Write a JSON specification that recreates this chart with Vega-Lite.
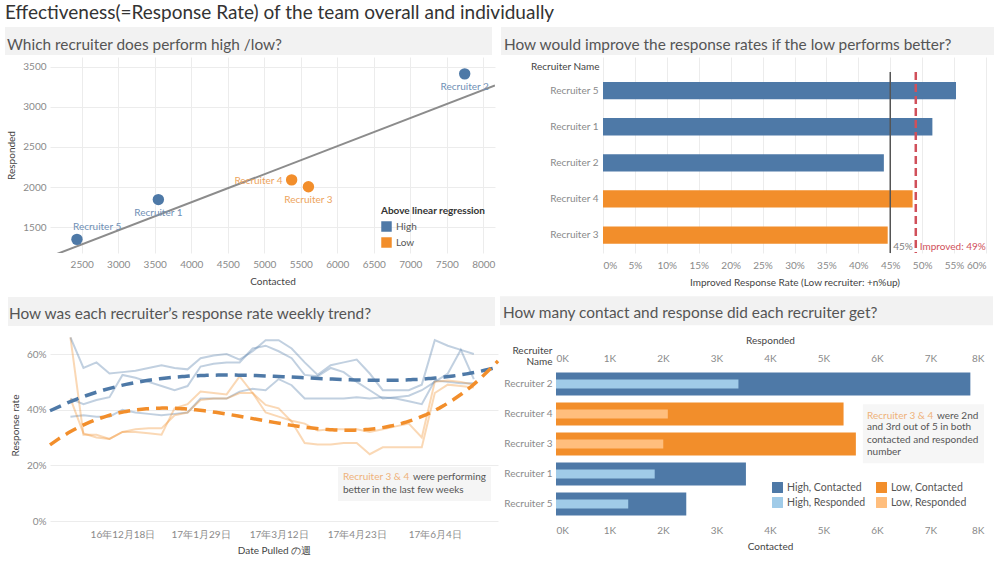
{
  "$schema": "https://vega.github.io/schema/vega-lite/v6.json",
  "padding": {"left": 5, "top": 3, "right": 2, "bottom": 2},
  "background": "white",
  "title": {"text": "Effectiveness(=Response Rate) of the team overall and individually", "fontSize": 19, "color": "#333", "anchor": "start", "frame": "bounds", "offset": 4, "fontWeight": "normal"},
  "datasets": {
    "recruiters": [
      {"Recruiter": "Recruiter 1", "Group": "High", "Contacted": 3550, "Responded": 1845, "Improved": 0.516},
      {"Recruiter": "Recruiter 2", "Group": "High", "Contacted": 7745, "Responded": 3410, "Improved": 0.440},
      {"Recruiter": "Recruiter 3", "Group": "Low", "Contacted": 5605, "Responded": 2005, "Improved": 0.446},
      {"Recruiter": "Recruiter 4", "Group": "Low", "Contacted": 5375, "Responded": 2090, "Improved": 0.485},
      {"Recruiter": "Recruiter 5", "Group": "High", "Contacted": 2435, "Responded": 1350, "Improved": 0.553}
    ],
    "bars": [
      {"Recruiter": "Recruiter 2", "Measure": "Contacted", "Series": "High, Contacted", "Value": 7745},
      {"Recruiter": "Recruiter 4", "Measure": "Contacted", "Series": "Low, Contacted", "Value": 5375},
      {"Recruiter": "Recruiter 3", "Measure": "Contacted", "Series": "Low, Contacted", "Value": 5605},
      {"Recruiter": "Recruiter 1", "Measure": "Contacted", "Series": "High, Contacted", "Value": 3550},
      {"Recruiter": "Recruiter 5", "Measure": "Contacted", "Series": "High, Contacted", "Value": 2435},
      {"Recruiter": "Recruiter 2", "Measure": "Responded", "Series": "High, Responded", "Value": 3410},
      {"Recruiter": "Recruiter 4", "Measure": "Responded", "Series": "Low, Responded", "Value": 2090},
      {"Recruiter": "Recruiter 3", "Measure": "Responded", "Series": "Low, Responded", "Value": 2005},
      {"Recruiter": "Recruiter 1", "Measure": "Responded", "Series": "High, Responded", "Value": 1845},
      {"Recruiter": "Recruiter 5", "Measure": "Responded", "Series": "High, Responded", "Value": 1350}
    ]
  },
  "columns": 2,
  "align": "none",
  "spacing": {"row": 9, "column": -5},
  "resolve": {"scale": {"color": "independent"}},
  "concat": [
    {
      "width": 445, "height": 196,
      "title": {"text": "Which recruiter does perform high /low?", "dx": -43, "offset": -26},
      "layer": [
        {
          "data": {"values": [{}]},
          "mark": {"type": "rect", "color": "#f2f2f2"},
          "encoding": {
            "x": {"datum": 1450, "type": "quantitative", "scale": {"domain": [2066, 8160], "nice": false, "zero": false}, "axis": null},
            "x2": {"datum": 8119},
            "y": {"datum": 3993, "type": "quantitative", "scale": {"domain": [1180, 3620], "nice": false, "zero": false}, "axis": null},
            "y2": {"datum": 3645}
          }
        },
        {
          "data": {"name": "recruiters"},
          "encoding": {
            "x": {"field": "Contacted", "type": "quantitative", "scale": {"domain": [2066, 8160], "nice": false, "zero": false},
                  "axis": {"values": [2500, 3000, 3500, 4000, 4500, 5000, 5500, 6000, 6500, 7000, 7500, 8000], "grid": true, "format": "d", "title": "Contacted", "labelPadding": 6, "titlePadding": 7}},
            "y": {"field": "Responded", "type": "quantitative", "scale": {"domain": [1180, 3620], "nice": false, "zero": false},
                  "axis": {"values": [1500, 2000, 2500, 3000, 3500], "grid": true, "format": "d", "title": "Responded"}}
          },
          "layer": [
            {
              "transform": [{"regression": "Responded", "on": "Contacted", "method": "linear", "extent": [2066, 8160]}],
              "mark": {"type": "line", "color": "#8c8c8c", "strokeWidth": 2, "clip": true}
            },
            {
              "mark": {"type": "circle", "size": 130, "opacity": 1},
              "encoding": {
                "color": {"field": "Group", "type": "nominal", "scale": {"domain": ["High", "Low"], "range": ["#4e79a7", "#f28e2b"]},
                          "legend": {"title": "Above linear regression", "orient": "none", "legendX": 331, "legendY": 149, "titleFontWeight": "bold", "symbolSize": 110, "rowPadding": 5}}
              }
            },
            {
              "transform": [{"filter": "datum.Recruiter == 'Recruiter 1' || datum.Recruiter == 'Recruiter 2' || datum.Recruiter == 'Recruiter 3'"}],
              "mark": {"type": "text", "dy": 13, "fontSize": 10, "align": "center", "baseline": "middle"},
              "encoding": {"text": {"field": "Recruiter"}, "color": {"condition": {"test": "datum.Group == 'High'", "value": "#6f8fb5"}, "value": "#eda45c"}}
            },
            {
              "transform": [{"filter": "datum.Recruiter == 'Recruiter 5'"}],
              "mark": {"type": "text", "dx": -4, "dy": -12, "fontSize": 10, "align": "left", "baseline": "middle"},
              "encoding": {"text": {"field": "Recruiter"}, "color": {"value": "#6f8fb5"}}
            },
            {
              "transform": [{"filter": "datum.Recruiter == 'Recruiter 4'"}],
              "mark": {"type": "text", "dx": -9, "dy": 1, "fontSize": 10, "align": "right", "baseline": "middle"},
              "encoding": {"text": {"field": "Recruiter"}, "color": {"value": "#eda45c"}}
            }
          ]
        }
      ],
      "resolve": {"scale": {"x": "independent", "y": "independent"}}
    },
    {
      "width": 383, "height": 196,
      "title": {"text": "How would improve the response rates if the low performs better?", "dx": -99, "offset": -26},
      "layer": [
        {
          "data": {"values": [{}]},
          "mark": {"type": "rect", "color": "#f2f2f2"},
          "encoding": {
            "x": {"datum": -0.1598, "type": "quantitative", "scale": {"domain": [0, 0.6], "nice": false}, "axis": null},
            "x2": {"datum": 0.6125},
            "y": {"datum": 1.1531, "type": "quantitative", "scale": {"domain": [0, 1]}, "axis": null},
            "y2": {"datum": 1.0102}
          }
        },
        {
          "data": {"name": "recruiters"},
          "mark": {"type": "bar"},
          "encoding": {
            "y": {"field": "Recruiter", "type": "nominal", "sort": ["Recruiter 5", "Recruiter 1", "Recruiter 2", "Recruiter 4", "Recruiter 3"],
                  "scale": {"paddingInner": 0.52, "paddingOuter": 0.4747, "align": 0.729},
                  "axis": {"title": "Recruiter Name", "titleAngle": 0, "titleAlign": "right", "titleX": -4, "titleY": 9, "titleBaseline": "middle", "labelPadding": 5}},
            "x": {"field": "Improved", "type": "quantitative", "scale": {"domain": [0, 0.6], "nice": false},
                  "axis": {"format": ".0%", "values": [0, 0.05, 0.1, 0.15, 0.2, 0.25, 0.3, 0.35, 0.4, 0.45, 0.5, 0.55, 0.6], "labelOverlap": false, "labelSeparation": 0, "grid": true, "title": "Improved Response Rate (Low recruiter: +n%up)", "labelPadding": 7, "titlePadding": 7}},
            "color": {"field": "Group", "type": "nominal", "scale": {"domain": ["High", "Low"], "range": ["#4e79a7", "#f28e2b"]}, "legend": null}
          }
        },
        {
          "data": {"values": [{}]},
          "mark": {"type": "rule", "color": "#555", "strokeWidth": 1.5},
          "encoding": {
            "x": {"datum": 0.45, "type": "quantitative", "scale": {"domain": [0, 0.6], "nice": false}, "axis": null},
            "y": {"datum": 0.9235, "type": "quantitative", "scale": {"domain": [0, 1]}, "axis": null},
            "y2": {"datum": 0}
          }
        },
        {
          "data": {"values": [{}]},
          "mark": {"type": "rule", "color": "#d0505a", "strokeWidth": 2.5, "strokeDash": [8, 4]},
          "encoding": {
            "x": {"datum": 0.49, "type": "quantitative", "scale": {"domain": [0, 0.6], "nice": false}, "axis": null},
            "y": {"datum": 0.9235, "type": "quantitative", "scale": {"domain": [0, 1]}, "axis": null},
            "y2": {"datum": 0}
          }
        },
        {
          "data": {"values": [{}]},
          "mark": {"type": "text", "align": "left", "baseline": "middle", "dx": 3, "fontSize": 10, "color": "#808080"},
          "encoding": {
            "x": {"datum": 0.45, "type": "quantitative", "scale": {"domain": [0, 0.6], "nice": false}, "axis": null},
            "y": {"datum": 0.0306, "type": "quantitative", "scale": {"domain": [0, 1]}, "axis": null},
            "text": {"value": "45%"}
          }
        },
        {
          "data": {"values": [{}]},
          "mark": {"type": "text", "align": "left", "baseline": "middle", "dx": 4, "fontSize": 10, "color": "#d0505a"},
          "encoding": {
            "x": {"datum": 0.49, "type": "quantitative", "scale": {"domain": [0, 0.6], "nice": false}, "axis": null},
            "y": {"datum": 0.0306, "type": "quantitative", "scale": {"domain": [0, 1]}, "axis": null},
            "text": {"value": "Improved: 49%"}
          }
        }
      ],
      "resolve": {"scale": {"x": "independent", "y": "independent"}}
    },
    {
      "width": 448, "height": 192,
      "title": {"text": "How was each recruiter’s response rate weekly trend?", "dx": -41, "offset": -25},
      "layer": [
        {
          "data": {"values": [{}]},
          "mark": {"type": "rect", "color": "#f2f2f2"},
          "encoding": {
            "x": {"datum": -0.09375, "type": "quantitative", "scale": {"domain": [0, 1]}, "axis": null},
            "x2": {"datum": 0.9933},
            "y": {"datum": 0.805, "type": "quantitative", "scale": {"domain": [0, 0.69], "nice": false}, "axis": null},
            "y2": {"datum": 0.7008}
          }
        },
        {
          "data": {"values": [{}]},
          "mark": {"type": "rect", "color": "#f5f5f5"},
          "encoding": {
            "x": {"datum": 0.6429, "type": "quantitative", "scale": {"domain": [0, 1]}, "axis": null},
            "x2": {"datum": 0.9844},
            "y": {"datum": 0.194, "type": "quantitative", "scale": {"domain": [0, 0.69], "nice": false}, "axis": null},
            "y2": {"datum": 0.072}
          }
        },
        {
          "data": {"values": [{}]},
          "mark": {"type": "text", "align": "left", "baseline": "middle", "fontSize": 10, "color": "#efb27a"},
          "encoding": {
            "x": {"datum": 0.654, "type": "quantitative", "scale": {"domain": [0, 1]}, "axis": null},
            "y": {"datum": 0.158, "type": "quantitative", "scale": {"domain": [0, 0.69], "nice": false}, "axis": null},
            "text": {"value": "Recruiter 3 & 4"}
          }
        },
        {
          "data": {"values": [{}]},
          "mark": {"type": "text", "align": "left", "baseline": "middle", "fontSize": 10, "dx": 70, "color": "#555555"},
          "encoding": {
            "x": {"datum": 0.654, "type": "quantitative", "scale": {"domain": [0, 1]}, "axis": null},
            "y": {"datum": 0.158, "type": "quantitative", "scale": {"domain": [0, 0.69], "nice": false}, "axis": null},
            "text": {"value": "were performing"}
          }
        },
        {
          "data": {"values": [{}]},
          "mark": {"type": "text", "align": "left", "baseline": "middle", "fontSize": 10, "color": "#555555"},
          "encoding": {
            "x": {"datum": 0.654, "type": "quantitative", "scale": {"domain": [0, 1]}, "axis": null},
            "y": {"datum": 0.112, "type": "quantitative", "scale": {"domain": [0, 0.69], "nice": false}, "axis": null},
            "text": {"value": "better in the last few weeks"}
          }
        },
        {
          "data": {
            "format": {"parse": {"Week": "date"}},
            "values": [
              {"Week": "2016-11-20", "Recruiter": "Recruiter 1", "Group": "High", "Rate": 0.44},
              {"Week": "2016-11-27", "Recruiter": "Recruiter 1", "Group": "High", "Rate": 0.42},
              {"Week": "2016-12-04", "Recruiter": "Recruiter 1", "Group": "High", "Rate": 0.435},
              {"Week": "2016-12-11", "Recruiter": "Recruiter 1", "Group": "High", "Rate": 0.445},
              {"Week": "2016-12-18", "Recruiter": "Recruiter 1", "Group": "High", "Rate": 0.525},
              {"Week": "2016-12-25", "Recruiter": "Recruiter 1", "Group": "High", "Rate": 0.515},
              {"Week": "2017-01-01", "Recruiter": "Recruiter 1", "Group": "High", "Rate": 0.50},
              {"Week": "2017-01-08", "Recruiter": "Recruiter 1", "Group": "High", "Rate": 0.485},
              {"Week": "2017-01-15", "Recruiter": "Recruiter 1", "Group": "High", "Rate": 0.47},
              {"Week": "2017-01-22", "Recruiter": "Recruiter 1", "Group": "High", "Rate": 0.485},
              {"Week": "2017-01-29", "Recruiter": "Recruiter 1", "Group": "High", "Rate": 0.555},
              {"Week": "2017-02-05", "Recruiter": "Recruiter 1", "Group": "High", "Rate": 0.565},
              {"Week": "2017-02-12", "Recruiter": "Recruiter 1", "Group": "High", "Rate": 0.57},
              {"Week": "2017-02-19", "Recruiter": "Recruiter 1", "Group": "High", "Rate": 0.57},
              {"Week": "2017-02-26", "Recruiter": "Recruiter 1", "Group": "High", "Rate": 0.62},
              {"Week": "2017-03-05", "Recruiter": "Recruiter 1", "Group": "High", "Rate": 0.63},
              {"Week": "2017-03-12", "Recruiter": "Recruiter 1", "Group": "High", "Rate": 0.61},
              {"Week": "2017-03-19", "Recruiter": "Recruiter 1", "Group": "High", "Rate": 0.585},
              {"Week": "2017-03-26", "Recruiter": "Recruiter 1", "Group": "High", "Rate": 0.525},
              {"Week": "2017-04-02", "Recruiter": "Recruiter 1", "Group": "High", "Rate": 0.52},
              {"Week": "2017-04-09", "Recruiter": "Recruiter 1", "Group": "High", "Rate": 0.55},
              {"Week": "2017-04-16", "Recruiter": "Recruiter 1", "Group": "High", "Rate": 0.535},
              {"Week": "2017-04-23", "Recruiter": "Recruiter 1", "Group": "High", "Rate": 0.50},
              {"Week": "2017-04-30", "Recruiter": "Recruiter 1", "Group": "High", "Rate": 0.47},
              {"Week": "2017-05-07", "Recruiter": "Recruiter 1", "Group": "High", "Rate": 0.44},
              {"Week": "2017-05-14", "Recruiter": "Recruiter 1", "Group": "High", "Rate": 0.445},
              {"Week": "2017-05-21", "Recruiter": "Recruiter 1", "Group": "High", "Rate": 0.45},
              {"Week": "2017-05-28", "Recruiter": "Recruiter 1", "Group": "High", "Rate": 0.47},
              {"Week": "2017-06-04", "Recruiter": "Recruiter 1", "Group": "High", "Rate": 0.50},
              {"Week": "2017-06-11", "Recruiter": "Recruiter 1", "Group": "High", "Rate": 0.53},
              {"Week": "2017-06-18", "Recruiter": "Recruiter 1", "Group": "High", "Rate": 0.615},
              {"Week": "2017-06-25", "Recruiter": "Recruiter 1", "Group": "High", "Rate": 0.51},

              {"Week": "2016-11-20", "Recruiter": "Recruiter 2", "Group": "High", "Rate": 0.375},
              {"Week": "2016-11-27", "Recruiter": "Recruiter 2", "Group": "High", "Rate": 0.38},
              {"Week": "2016-12-04", "Recruiter": "Recruiter 2", "Group": "High", "Rate": 0.375},
              {"Week": "2016-12-11", "Recruiter": "Recruiter 2", "Group": "High", "Rate": 0.375},
              {"Week": "2016-12-18", "Recruiter": "Recruiter 2", "Group": "High", "Rate": 0.40},
              {"Week": "2016-12-25", "Recruiter": "Recruiter 2", "Group": "High", "Rate": 0.39},
              {"Week": "2017-01-01", "Recruiter": "Recruiter 2", "Group": "High", "Rate": 0.385},
              {"Week": "2017-01-08", "Recruiter": "Recruiter 2", "Group": "High", "Rate": 0.38},
              {"Week": "2017-01-15", "Recruiter": "Recruiter 2", "Group": "High", "Rate": 0.385},
              {"Week": "2017-01-22", "Recruiter": "Recruiter 2", "Group": "High", "Rate": 0.39},
              {"Week": "2017-01-29", "Recruiter": "Recruiter 2", "Group": "High", "Rate": 0.44},
              {"Week": "2017-02-05", "Recruiter": "Recruiter 2", "Group": "High", "Rate": 0.44},
              {"Week": "2017-02-12", "Recruiter": "Recruiter 2", "Group": "High", "Rate": 0.44},
              {"Week": "2017-02-19", "Recruiter": "Recruiter 2", "Group": "High", "Rate": 0.465},
              {"Week": "2017-02-26", "Recruiter": "Recruiter 2", "Group": "High", "Rate": 0.475},
              {"Week": "2017-03-05", "Recruiter": "Recruiter 2", "Group": "High", "Rate": 0.47},
              {"Week": "2017-03-12", "Recruiter": "Recruiter 2", "Group": "High", "Rate": 0.51},
              {"Week": "2017-03-19", "Recruiter": "Recruiter 2", "Group": "High", "Rate": 0.488},
              {"Week": "2017-03-26", "Recruiter": "Recruiter 2", "Group": "High", "Rate": 0.44},
              {"Week": "2017-04-02", "Recruiter": "Recruiter 2", "Group": "High", "Rate": 0.44},
              {"Week": "2017-04-09", "Recruiter": "Recruiter 2", "Group": "High", "Rate": 0.44},
              {"Week": "2017-04-16", "Recruiter": "Recruiter 2", "Group": "High", "Rate": 0.44},
              {"Week": "2017-04-23", "Recruiter": "Recruiter 2", "Group": "High", "Rate": 0.445},
              {"Week": "2017-04-30", "Recruiter": "Recruiter 2", "Group": "High", "Rate": 0.44},
              {"Week": "2017-05-07", "Recruiter": "Recruiter 2", "Group": "High", "Rate": 0.445},
              {"Week": "2017-05-14", "Recruiter": "Recruiter 2", "Group": "High", "Rate": 0.44},
              {"Week": "2017-05-21", "Recruiter": "Recruiter 2", "Group": "High", "Rate": 0.43},
              {"Week": "2017-05-28", "Recruiter": "Recruiter 2", "Group": "High", "Rate": 0.42},
              {"Week": "2017-06-04", "Recruiter": "Recruiter 2", "Group": "High", "Rate": 0.505},
              {"Week": "2017-06-11", "Recruiter": "Recruiter 2", "Group": "High", "Rate": 0.50},
              {"Week": "2017-06-18", "Recruiter": "Recruiter 2", "Group": "High", "Rate": 0.495},
              {"Week": "2017-06-25", "Recruiter": "Recruiter 2", "Group": "High", "Rate": 0.495},

              {"Week": "2016-11-20", "Recruiter": "Recruiter 3", "Group": "Low", "Rate": 0.44},
              {"Week": "2016-11-27", "Recruiter": "Recruiter 3", "Group": "Low", "Rate": 0.315},
              {"Week": "2016-12-04", "Recruiter": "Recruiter 3", "Group": "Low", "Rate": 0.30},
              {"Week": "2016-12-11", "Recruiter": "Recruiter 3", "Group": "Low", "Rate": 0.295},
              {"Week": "2016-12-18", "Recruiter": "Recruiter 3", "Group": "Low", "Rate": 0.32},
              {"Week": "2016-12-25", "Recruiter": "Recruiter 3", "Group": "Low", "Rate": 0.33},
              {"Week": "2017-01-01", "Recruiter": "Recruiter 3", "Group": "Low", "Rate": 0.333},
              {"Week": "2017-01-08", "Recruiter": "Recruiter 3", "Group": "Low", "Rate": 0.333},
              {"Week": "2017-01-15", "Recruiter": "Recruiter 3", "Group": "Low", "Rate": 0.38},
              {"Week": "2017-01-22", "Recruiter": "Recruiter 3", "Group": "Low", "Rate": 0.39},
              {"Week": "2017-01-29", "Recruiter": "Recruiter 3", "Group": "Low", "Rate": 0.435},
              {"Week": "2017-02-05", "Recruiter": "Recruiter 3", "Group": "Low", "Rate": 0.44},
              {"Week": "2017-02-12", "Recruiter": "Recruiter 3", "Group": "Low", "Rate": 0.44},
              {"Week": "2017-02-19", "Recruiter": "Recruiter 3", "Group": "Low", "Rate": 0.46},
              {"Week": "2017-02-26", "Recruiter": "Recruiter 3", "Group": "Low", "Rate": 0.46},
              {"Week": "2017-03-05", "Recruiter": "Recruiter 3", "Group": "Low", "Rate": 0.417},
              {"Week": "2017-03-12", "Recruiter": "Recruiter 3", "Group": "Low", "Rate": 0.405},
              {"Week": "2017-03-19", "Recruiter": "Recruiter 3", "Group": "Low", "Rate": 0.357},
              {"Week": "2017-03-26", "Recruiter": "Recruiter 3", "Group": "Low", "Rate": 0.28},
              {"Week": "2017-04-02", "Recruiter": "Recruiter 3", "Group": "Low", "Rate": 0.275},
              {"Week": "2017-04-09", "Recruiter": "Recruiter 3", "Group": "Low", "Rate": 0.275},
              {"Week": "2017-04-16", "Recruiter": "Recruiter 3", "Group": "Low", "Rate": 0.28},
              {"Week": "2017-04-23", "Recruiter": "Recruiter 3", "Group": "Low", "Rate": 0.28},
              {"Week": "2017-04-30", "Recruiter": "Recruiter 3", "Group": "Low", "Rate": 0.24},
              {"Week": "2017-05-07", "Recruiter": "Recruiter 3", "Group": "Low", "Rate": 0.265},
              {"Week": "2017-05-14", "Recruiter": "Recruiter 3", "Group": "Low", "Rate": 0.265},
              {"Week": "2017-05-21", "Recruiter": "Recruiter 3", "Group": "Low", "Rate": 0.265},
              {"Week": "2017-05-28", "Recruiter": "Recruiter 3", "Group": "Low", "Rate": 0.265},
              {"Week": "2017-06-04", "Recruiter": "Recruiter 3", "Group": "Low", "Rate": 0.46},
              {"Week": "2017-06-11", "Recruiter": "Recruiter 3", "Group": "Low", "Rate": 0.49},
              {"Week": "2017-06-18", "Recruiter": "Recruiter 3", "Group": "Low", "Rate": 0.485},
              {"Week": "2017-06-25", "Recruiter": "Recruiter 3", "Group": "Low", "Rate": 0.48},

              {"Week": "2016-11-20", "Recruiter": "Recruiter 4", "Group": "Low", "Rate": 0.66},
              {"Week": "2016-11-27", "Recruiter": "Recruiter 4", "Group": "Low", "Rate": 0.31},
              {"Week": "2016-12-04", "Recruiter": "Recruiter 4", "Group": "Low", "Rate": 0.31},
              {"Week": "2016-12-11", "Recruiter": "Recruiter 4", "Group": "Low", "Rate": 0.295},
              {"Week": "2016-12-18", "Recruiter": "Recruiter 4", "Group": "Low", "Rate": 0.32},
              {"Week": "2016-12-25", "Recruiter": "Recruiter 4", "Group": "Low", "Rate": 0.32},
              {"Week": "2017-01-01", "Recruiter": "Recruiter 4", "Group": "Low", "Rate": 0.315},
              {"Week": "2017-01-08", "Recruiter": "Recruiter 4", "Group": "Low", "Rate": 0.31},
              {"Week": "2017-01-15", "Recruiter": "Recruiter 4", "Group": "Low", "Rate": 0.405},
              {"Week": "2017-01-22", "Recruiter": "Recruiter 4", "Group": "Low", "Rate": 0.42},
              {"Week": "2017-01-29", "Recruiter": "Recruiter 4", "Group": "Low", "Rate": 0.465},
              {"Week": "2017-02-05", "Recruiter": "Recruiter 4", "Group": "Low", "Rate": 0.46},
              {"Week": "2017-02-12", "Recruiter": "Recruiter 4", "Group": "Low", "Rate": 0.455},
              {"Week": "2017-02-19", "Recruiter": "Recruiter 4", "Group": "Low", "Rate": 0.52},
              {"Week": "2017-02-26", "Recruiter": "Recruiter 4", "Group": "Low", "Rate": 0.46},
              {"Week": "2017-03-05", "Recruiter": "Recruiter 4", "Group": "Low", "Rate": 0.39},
              {"Week": "2017-03-12", "Recruiter": "Recruiter 4", "Group": "Low", "Rate": 0.375},
              {"Week": "2017-03-19", "Recruiter": "Recruiter 4", "Group": "Low", "Rate": 0.36},
              {"Week": "2017-03-26", "Recruiter": "Recruiter 4", "Group": "Low", "Rate": 0.35},
              {"Week": "2017-04-02", "Recruiter": "Recruiter 4", "Group": "Low", "Rate": 0.325},
              {"Week": "2017-04-09", "Recruiter": "Recruiter 4", "Group": "Low", "Rate": 0.33},
              {"Week": "2017-04-16", "Recruiter": "Recruiter 4", "Group": "Low", "Rate": 0.33},
              {"Week": "2017-04-23", "Recruiter": "Recruiter 4", "Group": "Low", "Rate": 0.33},
              {"Week": "2017-04-30", "Recruiter": "Recruiter 4", "Group": "Low", "Rate": 0.32},
              {"Week": "2017-05-07", "Recruiter": "Recruiter 4", "Group": "Low", "Rate": 0.33},
              {"Week": "2017-05-14", "Recruiter": "Recruiter 4", "Group": "Low", "Rate": 0.34},
              {"Week": "2017-05-21", "Recruiter": "Recruiter 4", "Group": "Low", "Rate": 0.35},
              {"Week": "2017-05-28", "Recruiter": "Recruiter 4", "Group": "Low", "Rate": 0.30},
              {"Week": "2017-06-04", "Recruiter": "Recruiter 4", "Group": "Low", "Rate": 0.50},
              {"Week": "2017-06-11", "Recruiter": "Recruiter 4", "Group": "Low", "Rate": 0.505},
              {"Week": "2017-06-18", "Recruiter": "Recruiter 4", "Group": "Low", "Rate": 0.50},
              {"Week": "2017-06-25", "Recruiter": "Recruiter 4", "Group": "Low", "Rate": 0.49},

              {"Week": "2016-11-20", "Recruiter": "Recruiter 5", "Group": "High", "Rate": 0.66},
              {"Week": "2016-11-27", "Recruiter": "Recruiter 5", "Group": "High", "Rate": 0.55},
              {"Week": "2016-12-04", "Recruiter": "Recruiter 5", "Group": "High", "Rate": 0.57},
              {"Week": "2016-12-11", "Recruiter": "Recruiter 5", "Group": "High", "Rate": 0.53},
              {"Week": "2016-12-18", "Recruiter": "Recruiter 5", "Group": "High", "Rate": 0.535},
              {"Week": "2016-12-25", "Recruiter": "Recruiter 5", "Group": "High", "Rate": 0.54},
              {"Week": "2017-01-01", "Recruiter": "Recruiter 5", "Group": "High", "Rate": 0.55},
              {"Week": "2017-01-08", "Recruiter": "Recruiter 5", "Group": "High", "Rate": 0.56},
              {"Week": "2017-01-15", "Recruiter": "Recruiter 5", "Group": "High", "Rate": 0.55},
              {"Week": "2017-01-22", "Recruiter": "Recruiter 5", "Group": "High", "Rate": 0.545},
              {"Week": "2017-01-29", "Recruiter": "Recruiter 5", "Group": "High", "Rate": 0.585},
              {"Week": "2017-02-05", "Recruiter": "Recruiter 5", "Group": "High", "Rate": 0.595},
              {"Week": "2017-02-12", "Recruiter": "Recruiter 5", "Group": "High", "Rate": 0.60},
              {"Week": "2017-02-19", "Recruiter": "Recruiter 5", "Group": "High", "Rate": 0.58},
              {"Week": "2017-02-26", "Recruiter": "Recruiter 5", "Group": "High", "Rate": 0.61},
              {"Week": "2017-03-05", "Recruiter": "Recruiter 5", "Group": "High", "Rate": 0.65},
              {"Week": "2017-03-12", "Recruiter": "Recruiter 5", "Group": "High", "Rate": 0.65},
              {"Week": "2017-03-19", "Recruiter": "Recruiter 5", "Group": "High", "Rate": 0.62},
              {"Week": "2017-03-26", "Recruiter": "Recruiter 5", "Group": "High", "Rate": 0.57},
              {"Week": "2017-04-02", "Recruiter": "Recruiter 5", "Group": "High", "Rate": 0.525},
              {"Week": "2017-04-09", "Recruiter": "Recruiter 5", "Group": "High", "Rate": 0.56},
              {"Week": "2017-04-16", "Recruiter": "Recruiter 5", "Group": "High", "Rate": 0.57},
              {"Week": "2017-04-23", "Recruiter": "Recruiter 5", "Group": "High", "Rate": 0.58},
              {"Week": "2017-04-30", "Recruiter": "Recruiter 5", "Group": "High", "Rate": 0.53},
              {"Week": "2017-05-07", "Recruiter": "Recruiter 5", "Group": "High", "Rate": 0.47},
              {"Week": "2017-05-14", "Recruiter": "Recruiter 5", "Group": "High", "Rate": 0.47},
              {"Week": "2017-05-21", "Recruiter": "Recruiter 5", "Group": "High", "Rate": 0.47},
              {"Week": "2017-05-28", "Recruiter": "Recruiter 5", "Group": "High", "Rate": 0.49},
              {"Week": "2017-06-04", "Recruiter": "Recruiter 5", "Group": "High", "Rate": 0.65},
              {"Week": "2017-06-11", "Recruiter": "Recruiter 5", "Group": "High", "Rate": 0.63},
              {"Week": "2017-06-18", "Recruiter": "Recruiter 5", "Group": "High", "Rate": 0.615},
              {"Week": "2017-06-25", "Recruiter": "Recruiter 5", "Group": "High", "Rate": 0.60}
            ]
          },
          "encoding": {
            "x": {"field": "Week", "type": "temporal",
                  "scale": {"type": "utc", "domain": [1478649600000, 1499472000000]},
                  "axis": {"values": [1482019200000, 1485648000000, 1489276800000, 1492905600000, 1496534400000],
                           "format": "%y年%-m月%-d日", "title": "Date Pulled の週", "grid": false, "labelPadding": 8}},
            "y": {"field": "Rate", "type": "quantitative", "scale": {"domain": [0, 0.69], "nice": false},
                  "axis": {"values": [0, 0.2, 0.4, 0.6], "format": ".0%", "grid": true, "title": "Response rate"}},
            "color": {"field": "Group", "type": "nominal", "scale": {"domain": ["High", "Low"], "range": ["#4e79a7", "#f28e2b"]}, "legend": null}
          },
          "layer": [
            {
              "mark": {"type": "line", "strokeWidth": 2, "opacity": 0.35},
              "encoding": {"detail": {"field": "Recruiter"}}
            },
            {
              "transform": [{"regression": "Rate", "on": "Week", "method": "poly", "order": 3, "groupby": ["Group"], "extent": [1478649600000, 1499472000000]}],
              "mark": {"type": "line", "strokeWidth": 3.5, "strokeDash": [12, 7]}
            }
          ]
        }
      ],
      "resolve": {"scale": {"x": "independent", "y": "independent"}}
    },
    {
      "width": 428, "height": 150,
      "title": {"text": "How many contact and response did each recruiter get?", "dx": -53, "offset": -25},
      "layer": [
        {
          "data": {"values": [{}]},
          "mark": {"type": "rect", "color": "#f2f2f2"},
          "encoding": {
            "x": {"datum": -0.1308, "type": "quantitative", "scale": {"domain": [0, 1]}, "axis": null},
            "x2": {"datum": 1.021},
            "y": {"datum": 1.4847, "type": "quantitative", "scale": {"domain": [0, 1]}, "axis": null},
            "y2": {"datum": 1.2913}
          }
        },
        {
          "data": {"values": [{}]},
          "mark": {"type": "rect", "color": "#f6f6f6"},
          "encoding": {
            "x": {"datum": 0.717, "type": "quantitative", "scale": {"domain": [0, 1]}, "axis": null},
            "x2": {"datum": 1.0},
            "y": {"datum": 0.7647, "type": "quantitative", "scale": {"domain": [0, 1]}, "axis": null},
            "y2": {"datum": 0.3713}
          }
        },
        {
          "data": {"name": "bars"},
          "encoding": {
            "y": {"field": "Recruiter", "type": "nominal", "sort": ["Recruiter 2", "Recruiter 4", "Recruiter 3", "Recruiter 1", "Recruiter 5"],
                  "scale": {"paddingInner": 0.24, "paddingOuter": 0.12},
                  "axis": {"title": ["Recruiter", "Name"], "titleAngle": 0, "titleAlign": "right", "titleX": -4, "titleY": -19, "titleBaseline": "middle", "titleLineHeight": 11, "labelPadding": 4}}
          },
          "layer": [
            {
              "transform": [{"filter": "datum.Measure == 'Contacted'"}],
              "mark": {"type": "bar"},
              "encoding": {
                "x": {"field": "Value", "type": "quantitative", "scale": {"domain": [0, 8000], "nice": false},
                      "axis": {"orient": "bottom", "title": "Contacted", "values": [0, 1000, 2000, 3000, 4000, 5000, 6000, 7000, 8000], "labelExpr": "datum.value / 1000 + 'K'", "grid": false, "labelPadding": 6, "titlePadding": 6}},
                "color": {"field": "Series", "type": "nominal",
                          "scale": {"domain": ["High, Contacted", "Low, Contacted", "High, Responded", "Low, Responded"], "range": ["#4e79a7", "#f28e2b", "#a0cbe8", "#ffbe7d"]},
                          "legend": {"title": null, "orient": "none", "legendX": 216, "legendY": 113, "columns": 2, "direction": "horizontal", "symbolSize": 120, "columnPadding": 10, "rowPadding": 4, "labelFontSize": 10.5,
                                     "values": ["High, Contacted", "Low, Contacted", "High, Responded", "Low, Responded"]}}
              }
            },
            {
              "transform": [{"filter": "datum.Measure == 'Responded'"}],
              "mark": {"type": "bar", "size": 9},
              "encoding": {
                "x": {"field": "Value", "type": "quantitative", "scale": {"domain": [0, 8000], "nice": false},
                      "axis": {"orient": "top", "title": "Responded", "values": [0, 1000, 2000, 3000, 4000, 5000, 6000, 7000, 8000], "labelExpr": "datum.value / 1000 + 'K'", "grid": false, "labelPadding": 6, "titlePadding": 8}},
                "color": {"field": "Series", "type": "nominal",
                          "scale": {"domain": ["High, Contacted", "Low, Contacted", "High, Responded", "Low, Responded"], "range": ["#4e79a7", "#f28e2b", "#a0cbe8", "#ffbe7d"]}}
              }
            },
            {
              "data": {"values": [{}]},
              "mark": {"type": "text", "align": "left", "baseline": "middle", "fontSize": 10, "dy": 2, "color": "#efb27a"},
              "encoding": {
                "x": {"datum": 5813, "type": "quantitative", "axis": null},
                "y": {"datum": "Recruiter 4"},
                "text": {"value": "Recruiter 3 & 4"}
              }
            },
            {
              "data": {"values": [{}]},
              "mark": {"type": "text", "align": "left", "baseline": "middle", "fontSize": 10, "dy": 2, "dx": 70, "color": "#555555"},
              "encoding": {
                "x": {"datum": 5813, "type": "quantitative", "axis": null},
                "y": {"datum": "Recruiter 4"},
                "text": {"value": "were 2nd"}
              }
            },
            {
              "data": {"values": [{}]},
              "mark": {"type": "text", "align": "left", "baseline": "top", "fontSize": 10, "dy": 8, "lineHeight": 12.7, "color": "#555555"},
              "encoding": {
                "x": {"datum": 5813, "type": "quantitative", "axis": null},
                "y": {"datum": "Recruiter 4"},
                "text": {"value": ["and 3rd out of 5 in both", "contacted and responded", "number"]}
              }
            }
          ],
          "resolve": {"axis": {"x": "independent"}}
        }
      ],
      "resolve": {"scale": {"x": "independent", "y": "independent"}}
    }
  ],
  "config": {
    "font": "Lato",
    "view": {"stroke": null},
    "axis": {"labelColor": "#8a8a8a", "labelFontSize": 10, "titleColor": "#444", "titleFontSize": 10, "titleFontWeight": "normal", "ticks": false, "domain": false, "gridColor": "#ececec", "grid": false, "labelPadding": 4, "titlePadding": 6},
    "title": {"fontSize": 15.4, "color": "#555", "fontWeight": "normal", "anchor": "start", "frame": "group"},
    "legend": {"labelColor": "#555", "labelFontSize": 10, "titleColor": "#333", "titleFontSize": 10, "symbolType": "square", "symbolStrokeWidth": 0}
  }
}
